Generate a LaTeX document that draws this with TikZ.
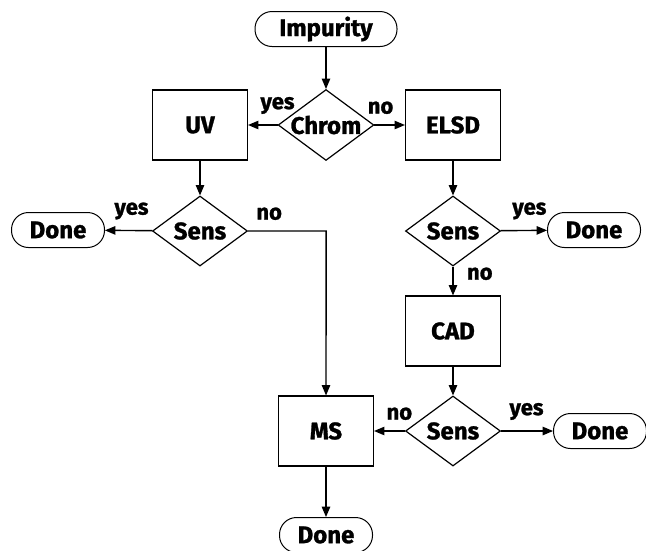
\documentclass[tikz,border=0pt]{standalone}
\usepackage{fontspec}
\setmainfont{Fira Sans}[BoldFeatures={FakeBold=1.2}]
\usetikzlibrary{shapes.geometric, arrows}
\tikzstyle{startstop} = [rectangle, rounded corners=17pt, minimum width=93pt, minimum height=35pt, text centered, draw=black, line width=1pt]
\tikzstyle{process} = [rectangle, minimum width=95pt, minimum height=70pt, text centered, draw=black, line width=1.2pt]
\tikzstyle{decision} = [diamond, aspect=1.35, minimum width=95pt, minimum height=70pt, inner sep=0pt, text centered, draw=black, line width=1.2pt]
\tikzstyle{arrow} = [line width=1.4pt,->,>=triangle 45]
\tikzstyle{lbl} = [font=\fontsize{22}{24}\selectfont\bfseries]
\begin{document}
\begin{tikzpicture}[x=1pt, y=-1pt, font=\fontsize{24}{26}\selectfont\bfseries]
	\useasboundingbox (0,0) rectangle (646,550);
	\node (start) [startstop, minimum width=142pt] at (326,29) {Impurity};
	\node (chrom) [decision] at (326,125) {Chrom};
	\node (uv) [process] at (200,125) {UV};
	\node (elsd) [process] at (453,125) {ELSD};
	\node (sensa) [decision] at (200,231) {Sens};
	\node (donea) [startstop] at (58,230) {Done};
	\node (sensb) [decision] at (453,231) {Sens};
	\node (doneb) [startstop] at (594,230) {Done};
	\node (cad) [process] at (453,331) {CAD};
	\node (sensc) [decision] at (453,431) {Sens};
	\node (donec) [startstop] at (600,431) {Done};
	\node (ms) [process] at (326,431) {MS};
	\node (out1) [startstop] at (326,535) {Done};
	\draw [arrow] (start) -- (chrom);
	\draw [arrow] (chrom) -- node[lbl, above=7pt, pos=0] {yes} (uv);
	\draw [arrow] (chrom) -- node[lbl, above=7pt, pos=0.2] {no} (elsd);
	\draw [arrow] (uv) -- (sensa);
	\draw [arrow] (sensa) -- node[lbl, above=7pt, pos=0.44] {yes} (donea);
	\draw [arrow] (sensa.east) -- node[lbl, above=7pt, pos=0.27] {no} ++(78,0) -- (ms);
	\draw [arrow] (elsd) -- (sensb);
	\draw [arrow] (sensb) -- node[lbl, above=7pt, pos=0.62] {yes} (doneb);
	\draw [arrow] (sensb) -- node[lbl, right=10pt, pos=0.25] {no} (cad);
	\draw [arrow] (cad) -- (sensc);
	\draw [arrow] (sensc) -- node[lbl, above=7pt, pos=0.18] {no} (ms);
	\draw [arrow] (sensc) -- node[lbl, above=7pt, pos=0.49] {yes} (donec);
	\draw [arrow] (ms) -- (out1);
\end{tikzpicture}
\end{document}
